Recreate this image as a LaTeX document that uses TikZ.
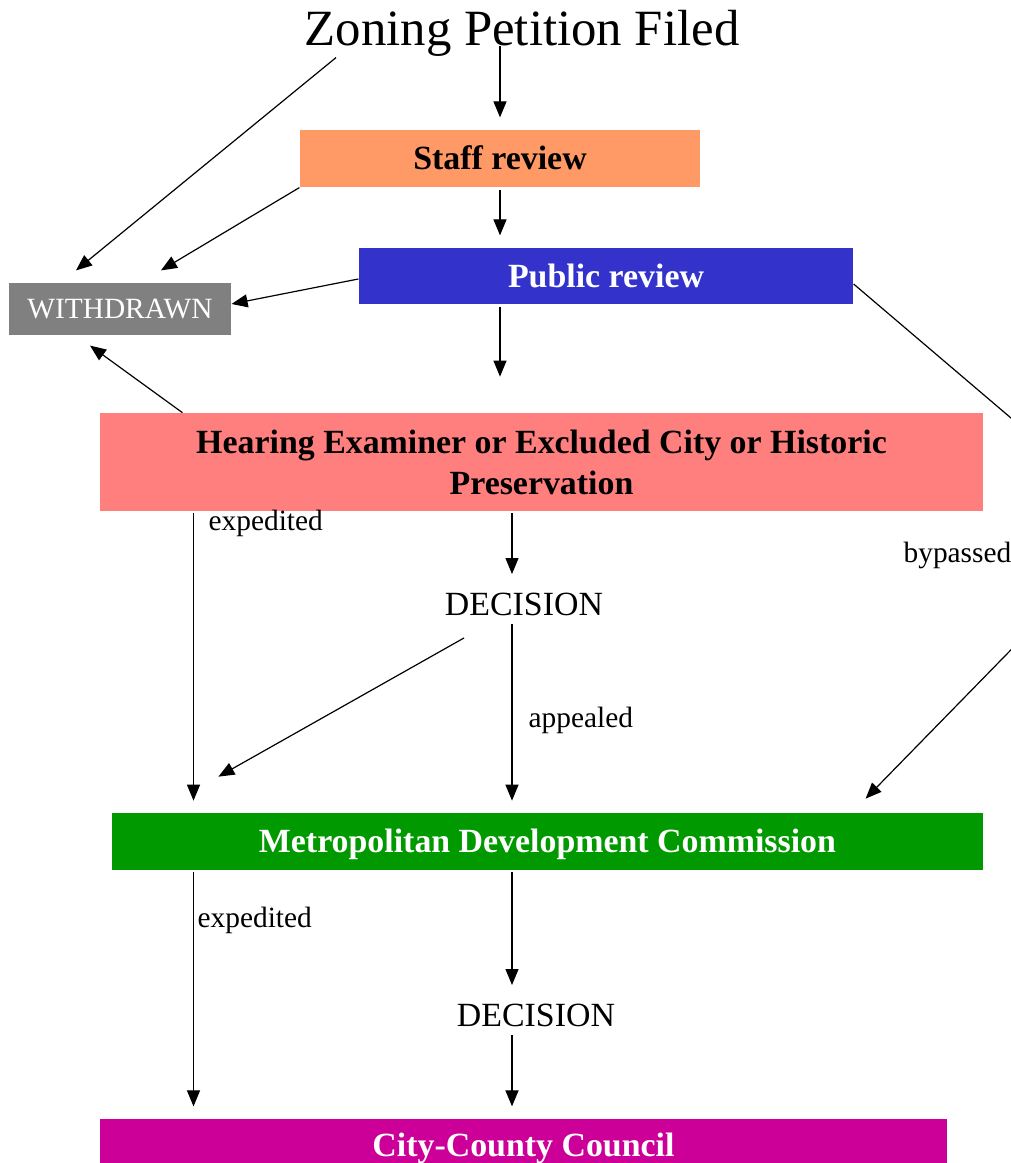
\documentclass[tikz,border=0pt]{standalone}
\usepackage{fontspec}
\setmainfont{Liberation Serif}
\usetikzlibrary{arrows.meta}
\definecolor{staffcol}{HTML}{FF9966}
\definecolor{publiccol}{HTML}{3333CC}
\definecolor{withdrawncol}{HTML}{808080}
\definecolor{hearingcol}{HTML}{FF7F7F}
\definecolor{mdccol}{HTML}{009900}
\definecolor{councilcol}{HTML}{CC0099}
\begin{document}
\begin{tikzpicture}[>={Triangle[length=16bp,width=13bp]},line join=bevel,line width=1.2bp,
  box/.style={rectangle,inner sep=0pt,font=\fontsize{34}{41}\selectfont\bfseries},
  onerow/.style={box,text height=23bp,text depth=0pt},
  lbl/.style={inner sep=0pt,anchor=base west,font=\fontsize{29.5}{35}\selectfont},
  decision/.style={inner sep=6bp,font=\fontsize{34}{41}\selectfont},
  flow/.style={->,shorten <=2bp,shorten >=12bp},
  ]
\useasboundingbox (0bp,0bp) rectangle (1011bp,1163bp);
\clip (0bp,0bp) rectangle (1011bp,1163bp);
%%
\node (node_filed) at (522bp,1117bp) [anchor=base,inner sep=0pt,font=\fontsize{51}{60}\selectfont] {Zoning Petition Filed};
  \node (node_staff) at (500bp,1004.5bp) [onerow,fill=staffcol,minimum width=400bp,minimum height=57bp] {Staff review};
  \node (node_public) at (606bp,887bp) [onerow,fill=publiccol,text=white,minimum width=494bp,minimum height=56bp] {Public review};
  \node (node_withdrawn) at (120bp,854bp) [rectangle,inner sep=0pt,fill=withdrawncol,text=white,minimum width=222bp,minimum height=52bp,font=\fontsize{29.5}{35}\selectfont] {WITHDRAWN};
  \node (node_hearing) at (541.5bp,701bp) [box,fill=hearingcol,align=center,minimum width=883bp,minimum height=97.5bp] {Hearing Examiner or Excluded City or Historic\\Preservation};
  \node (node_dec1) at (524bp,559bp) [decision] {DECISION};
  \node (node_mdc) at (547.5bp,321.5bp) [onerow,fill=mdccol,text=white,minimum width=871bp,minimum height=56.5bp] {Metropolitan Development Commission};
  \node (node_dec2) at (536bp,148bp) [decision] {DECISION};
  \node (node_council) at (523.5bp,18bp) [onerow,fill=councilcol,text=white,minimum width=847bp,minimum height=52bp] {City-County Council};
%%
  \node (lbl_exp1) at (208bp,632bp) [lbl] {expedited};
  \node (lbl_bypass) at (903bp,600bp) [lbl] {bypassed};
  \node (lbl_appeal) at (528bp,435bp) [lbl] {appealed};
  \node (lbl_exp2) at (197bp,235bp) [lbl] {expedited};
%%
  \coordinate (col_main) at (512bp,0bp);
  \coordinate (col_left) at (193.5bp,0bp);
  \coordinate (bend_a) at (1045bp,716bp);
  \coordinate (bend_b) at (1045bp,548bp);
%%
  \draw [black,->,shorten >=12bp] (node_filed.base -| node_staff) -- (node_staff.north);
  \draw [black,flow] (node_staff.south) -- (node_public.north -| node_staff);
  \draw [black,->,shorten <=2bp,shorten >=36bp] (node_public.south -| node_staff) -- (node_hearing.north -| node_staff);
  \draw [black,->] ([xshift=32bp]node_filed.south west) -- ([xshift=-44bp,yshift=12bp]node_withdrawn.north);
  \draw [black,->] (node_staff.south west) -- ([xshift=41bp,yshift=12bp]node_withdrawn.north);
  \draw [black,->] ([yshift=-3bp]node_public.west) -- ([yshift=5bp]node_withdrawn.east);
  \draw [black,->] ([xshift=83bp]node_hearing.north west) -- ([xshift=-30bp,yshift=-10bp]node_withdrawn.south);
  \draw [black,->] ([yshift=-8bp]node_public.east) -- (bend_a) -- (bend_b) -- ([xshift=-118bp,yshift=14bp]node_mdc.north east);
  \draw [black,flow] (node_hearing.south -| col_main) -- (node_dec1.north -| col_main);
  \draw [black,flow] (node_dec1.south -| col_main) -- (node_mdc.north -| col_main);
  \draw [black,->] ([xshift=-60bp,yshift=-16bp]node_dec1.south) -- ([xshift=107bp,yshift=36bp]node_mdc.north west);
  \draw [black,flow] (node_hearing.south -| col_left) -- (node_mdc.north -| col_left);
  \draw [black,flow] (node_mdc.south -| col_main) -- (node_dec2.north -| col_main);
  \draw [black,flow] (node_dec2.south -| col_main) -- (node_council.north -| col_main);
  \draw [black,flow] (node_mdc.south -| col_left) -- (node_council.north -| col_left);
%
\end{tikzpicture}
\end{document}
